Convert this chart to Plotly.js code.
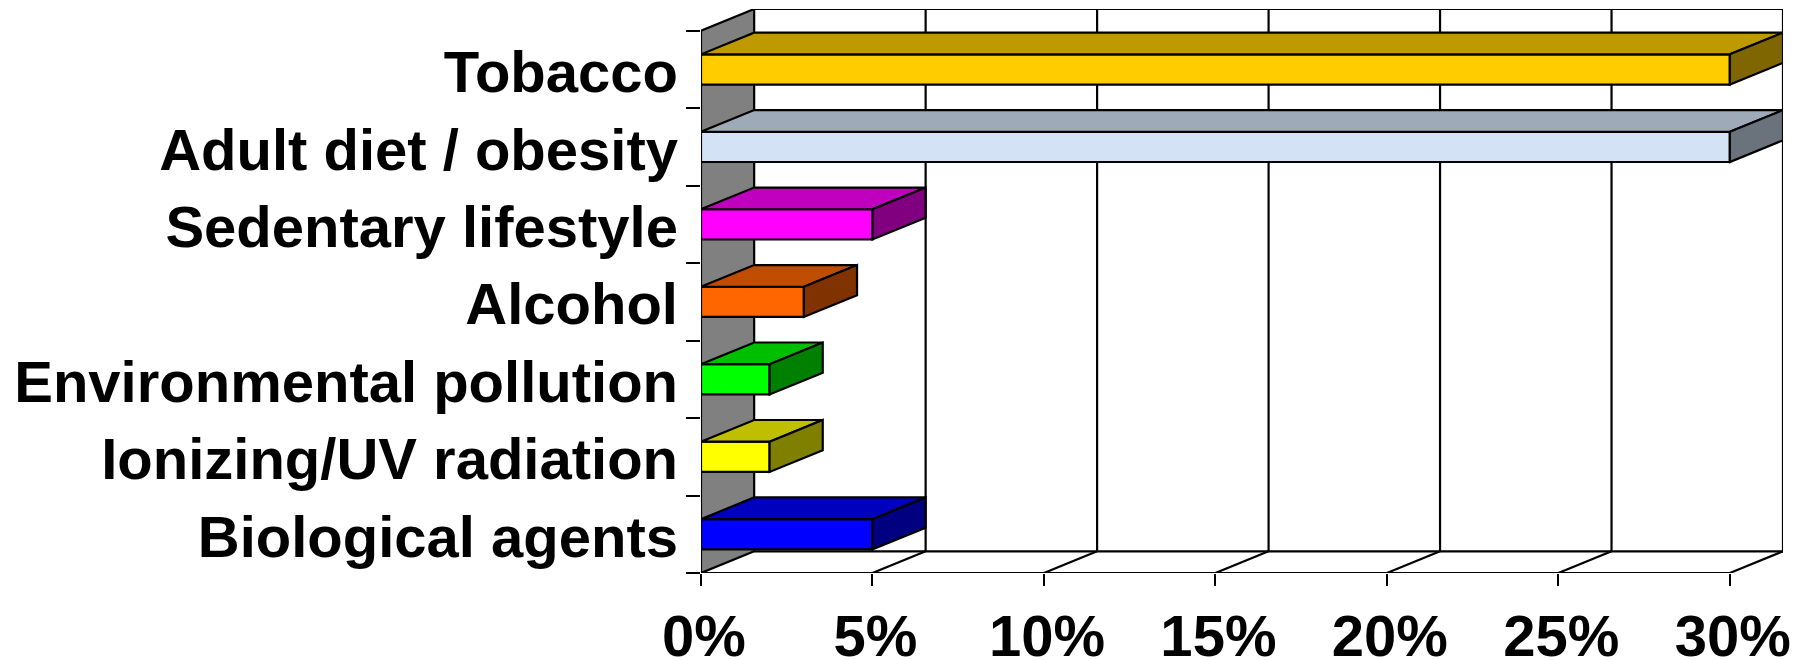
<!DOCTYPE html>
<html>
<head>
<meta charset="utf-8">
<script src="https://cdn.plot.ly/plotly-3.0.1.min.js"></script>
<style>
  html, body { margin: 0; padding: 0; background: #ffffff; }
  #chart { width: 1804px; height: 660px; }
</style>
</head>
<body>
<div id="chart"></div>
<script>
// Share of cancer deaths by cause
const categories = [
  'Tobacco',
  'Adult diet / obesity',
  'Sedentary lifestyle',
  'Alcohol',
  'Environmental pollution',
  'Ionizing/UV radiation',
  'Biological agents'
];
const values = [30, 30, 5, 3, 2, 2, 5];
const xTicks = [0, 5, 10, 15, 20, 25, 30];
const xTickLabels = ['0%', '5%', '10%', '15%', '20%', '25%', '30%'];
const barColors = ['#FFCC00', '#D3E3F5', '#FF00FF', '#FF6600', '#00FF00', '#FFFF00', '#0000FF'];

// Pseudo-3D geometry, in axis units
const DX = 1.55;   // depth shift along x
const DY = 0.28;   // depth shift along the category axis
const BAR = 0.39;  // bar thickness
const X_MAX = xTicks[xTicks.length - 1];
const N = categories.length;
const Y_TOP = -0.5;
const Y_BOT = N - 0.5;

function shade(hex, k) {
  const r = Math.round(parseInt(hex.slice(1, 3), 16) * k);
  const g = Math.round(parseInt(hex.slice(3, 5), 16) * k);
  const b = Math.round(parseInt(hex.slice(5, 7), 16) * k);
  return 'rgb(' + r + ',' + g + ',' + b + ')';
}

const outline = { color: '#000000', width: 2.2 };

// Back wall, side wall and floor, drawn beneath the bars
const shapes = [];
function seg(x0, y0, x1, y1) {
  shapes.push({
    type: 'line', xref: 'x', yref: 'y', layer: 'below',
    x0: x0, y0: y0, x1: x1, y1: y1, line: outline
  });
}
shapes.push({
  type: 'path', xref: 'x', yref: 'y', layer: 'below',
  path: 'M0,' + Y_TOP + ' L' + DX + ',' + (Y_TOP - DY) + ' L' + DX + ',' + (Y_BOT - DY) +
        ' L0,' + Y_BOT + ' Z',
  fillcolor: '#808080', line: outline
});
seg(DX, Y_TOP - DY, X_MAX + DX, Y_TOP - DY);
seg(DX, Y_BOT - DY, X_MAX + DX, Y_BOT - DY);
seg(0, Y_BOT, X_MAX, Y_BOT);
xTicks.forEach(t => {
  if (t === 0) return;
  seg(t + DX, Y_TOP - DY, t + DX, Y_BOT - DY);
  seg(t, Y_BOT, t + DX, Y_BOT - DY);
});

const traces = [];

// Front faces
traces.push({
  type: 'bar', orientation: 'h',
  x: values,
  y: categories.map((c, i) => i),
  width: BAR,
  marker: { color: barColors, line: outline },
  hoverinfo: 'skip', showlegend: false
});

// Top and side faces of each bar
values.forEach((v, i) => {
  const y0 = i - BAR / 2, y1 = i + BAR / 2;
  traces.push({
    type: 'scatter', mode: 'lines', fill: 'toself', fillcolor: shade(barColors[i], 0.75),
    x: [0, v, v + DX, DX, 0],
    y: [y0, y0, y0 - DY, y0 - DY, y0],
    line: outline, hoverinfo: 'skip', cliponaxis: false, showlegend: false
  });
  traces.push({
    type: 'scatter', mode: 'lines', fill: 'toself', fillcolor: shade(barColors[i], 0.5),
    x: [v, v + DX, v + DX, v, v],
    y: [y0, y0 - DY, y1 - DY, y1, y0],
    line: outline, hoverinfo: 'skip', cliponaxis: false, showlegend: false
  });
});

const labelFont = { family: 'Liberation Sans, Arial, sans-serif', size: 58, color: '#000000', weight: 'bold' };

const layout = {
  width: 1804, height: 660,
  margin: { l: 701, r: 21, t: 9, b: 87, pad: 0 },
  paper_bgcolor: '#ffffff', plot_bgcolor: '#ffffff',
  bargap: 0,
  xaxis: {
    range: [0, X_MAX + DX],
    tickmode: 'array', tickvals: xTicks, ticktext: xTickLabels,
    ticks: 'outside', ticklen: 12, tickwidth: 2, tickcolor: '#000000',
    ticklabelstandoff: 0, ticklabelshift: 3,
    showgrid: false, zeroline: false, showline: false,
    tickfont: labelFont, fixedrange: true
  },
  yaxis: {
    range: [Y_BOT, Y_TOP - DY],
    tickmode: 'array', tickvals: categories.map((c, i) => i + 0.03), ticktext: categories,
    ticks: '', ticklabelstandoff: 22,
    minor: {
      tickmode: 'array',
      tickvals: categories.map((c, i) => i - 0.5).concat([Y_BOT]),
      ticks: 'outside', ticklen: 14, tickwidth: 2, tickcolor: '#000000', showgrid: false
    },
    showgrid: false, zeroline: false, showline: false,
    tickfont: labelFont, fixedrange: true
  },
  shapes: shapes,
  showlegend: false
};

Plotly.newPlot('chart', traces, layout, { staticPlot: true, displayModeBar: false });
</script>
</body>
</html>
